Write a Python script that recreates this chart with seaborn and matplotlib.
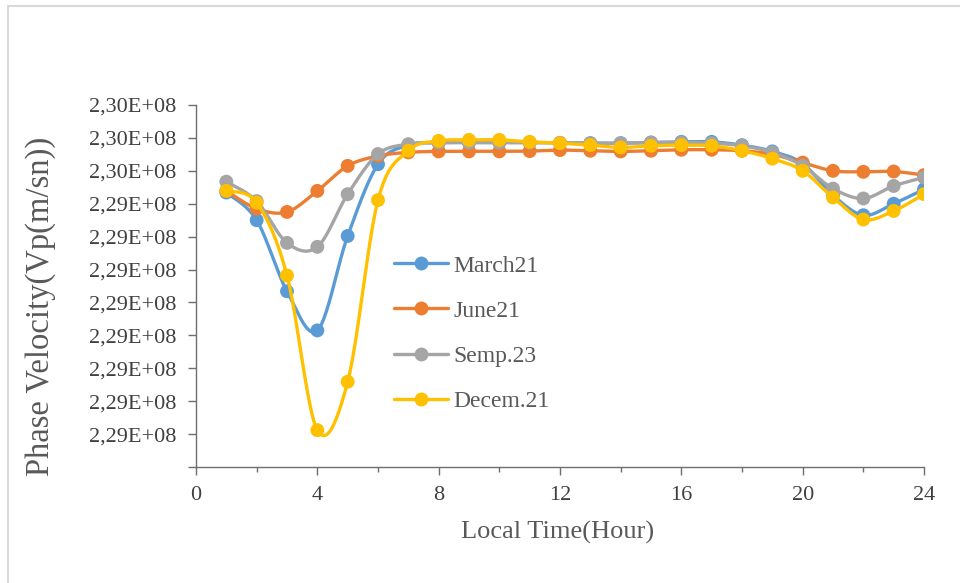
import numpy as np
import pandas as pd
import seaborn as sns
import matplotlib.pyplot as plt
from matplotlib.lines import Line2D
from matplotlib.patches import Rectangle

# local time (hour) and phase velocity (m/s)
hours = list(range(1, 25))
march21 = [229493400, 229485000, 229463400, 229451500, 229480200, 229502000,
           229507800, 229508500, 229508600, 229508600, 229508600, 229508500,
           229508400, 229508400, 229508600, 229508800, 229508800, 229507800,
           229505900, 229502200, 229492600, 229486500, 229490000, 229494400]
june21 = [229493900, 229488500, 229487500, 229493900, 229501500, 229504500,
          229505600, 229505900, 229505900, 229505900, 229506000, 229506300,
          229506100, 229505900, 229506100, 229506400, 229506400, 229506100,
          229505000, 229502500, 229500000, 229499700, 229499800, 229498700]
semp23 = [229496700, 229490800, 229478100, 229476900, 229492900, 229505100,
          229508100, 229508600, 229508600, 229508600, 229508600, 229508500,
          229508400, 229508400, 229508600, 229508600, 229508400, 229507600,
          229505600, 229501500, 229494600, 229491600, 229495400, 229498000]
decem21 = [229493900, 229490300, 229468200, 229421200, 229435900, 229491100,
           229506100, 229509100, 229509400, 229509400, 229508800, 229508400,
           229507800, 229507100, 229507600, 229507800, 229507600, 229506100,
           229503700, 229500000, 229491900, 229485200, 229487800, 229492900]

series_names = ["March21", "June21", "Semp.23", "Decem.21"]
series_values = [march21, june21, semp23, decem21]
colors = ["#5B9BD5", "#ED7D31", "#A5A5A5", "#FFC000"]

y_ticks = list(range(229410000, 229520001, 10000))
y_tick_labels = [""] + ["2,29E+08"] * 8 + ["2,30E+08"] * 3
x_ticks = [0, 4, 8, 12, 16, 20, 24]


def smooth(x, y, n=24):
    # Excel-style smoothed line: cubic Bezier through every point
    x = np.asarray(x, float)
    y = np.asarray(y, float)
    px = np.concatenate([[x[0]], x, [x[-1]]])
    py = np.concatenate([[y[0]], y, [y[-1]]])
    t = np.linspace(0, 1, n)[:, None]
    xs, ys = [], []
    for i in range(1, len(x)):
        p0 = np.array([px[i], py[i]])
        p3 = np.array([px[i + 1], py[i + 1]])
        c1 = p0 + (np.array([px[i + 1], py[i + 1]]) - np.array([px[i - 1], py[i - 1]])) / 6
        c2 = p3 - (np.array([px[i + 2], py[i + 2]]) - np.array([px[i], py[i]])) / 6
        b = ((1 - t) ** 3) * p0 + 3 * ((1 - t) ** 2) * t * c1 + 3 * (1 - t) * t ** 2 * c2 + t ** 3 * p3
        xs.append(b[:, 0])
        ys.append(b[:, 1])
    return np.concatenate(xs), np.concatenate(ys)


sns.set_theme(style="white")
plt.rcParams["font.family"] = ["Liberation Serif", "DejaVu Serif"]

fig = plt.figure(figsize=(9.6, 5.83), dpi=100)
ax = fig.add_axes([196 / 960, 1 - 467 / 583, 728 / 960, 362 / 583])

for k, (name, vals, col) in enumerate(zip(series_names, series_values, colors)):
    sx, sy = smooth(hours, vals)
    curve = pd.DataFrame({"hour": sx, "vp": sy})
    pts = pd.DataFrame({"hour": hours, "vp": vals})
    sns.lineplot(data=curve, x="hour", y="vp", sort=False, estimator=None,
                 color=col, linewidth=2.4, ax=ax, zorder=3 + 2 * k)
    sns.scatterplot(data=pts, x="hour", y="vp", color=col, s=100,
                    edgecolor="none", ax=ax, zorder=4 + 2 * k)

ax.set_xlim(0, 24)
ax.set_ylim(y_ticks[0], y_ticks[-1])
ax.set_xticks(x_ticks)
ax.set_xticks([2, 6, 10, 14, 18, 22], minor=True)
ax.set_yticks(y_ticks)
ax.set_yticklabels(y_tick_labels)

for s in ["top", "right"]:
    ax.spines[s].set_visible(False)
for s in ["left", "bottom"]:
    ax.spines[s].set_color("#6e6e6e")
    ax.spines[s].set_linewidth(1.0)

ax.tick_params(axis="both", which="major", direction="out", length=6,
               width=1, color="#6e6e6e", labelsize=16, labelcolor="#404040", pad=8,
               left=True, bottom=True)
ax.tick_params(axis="x", which="minor", direction="out", length=3.5, width=1,
               color="#6e6e6e", bottom=True)
ax.grid(False)

ax.set_xlabel("Local Time(Hour)", fontsize=19, color="#595959", va="center")
ax.xaxis.set_label_coords(0.497, -0.182)
ax.set_ylabel("Phase Velocity(Vp(m/sn))", fontsize=23.5, color="#595959", va="center")
ax.yaxis.set_label_coords(-0.214, 0.445)

handles = [Line2D([0], [0], color=c, lw=2.4, marker="o", markersize=10,
                  markeredgewidth=0) for c in colors]
ax.legend(handles, series_names, loc="upper left",
          bbox_to_anchor=(394 / 960, 1 - 255 / 583), bbox_transform=fig.transFigure,
          frameon=False, fontsize=17, labelcolor="#595959", handlelength=2.3,
          handletextpad=0.2, labelspacing=1.0, borderpad=0, borderaxespad=0)

fig.patches.append(Rectangle((8 / 960, -0.1), 1.2, 1 - 6 / 583 + 0.1,
                             transform=fig.transFigure, fill=False,
                             edgecolor="#D9D9D9", linewidth=1.5))

fig.savefig("out.png", dpi=100)
